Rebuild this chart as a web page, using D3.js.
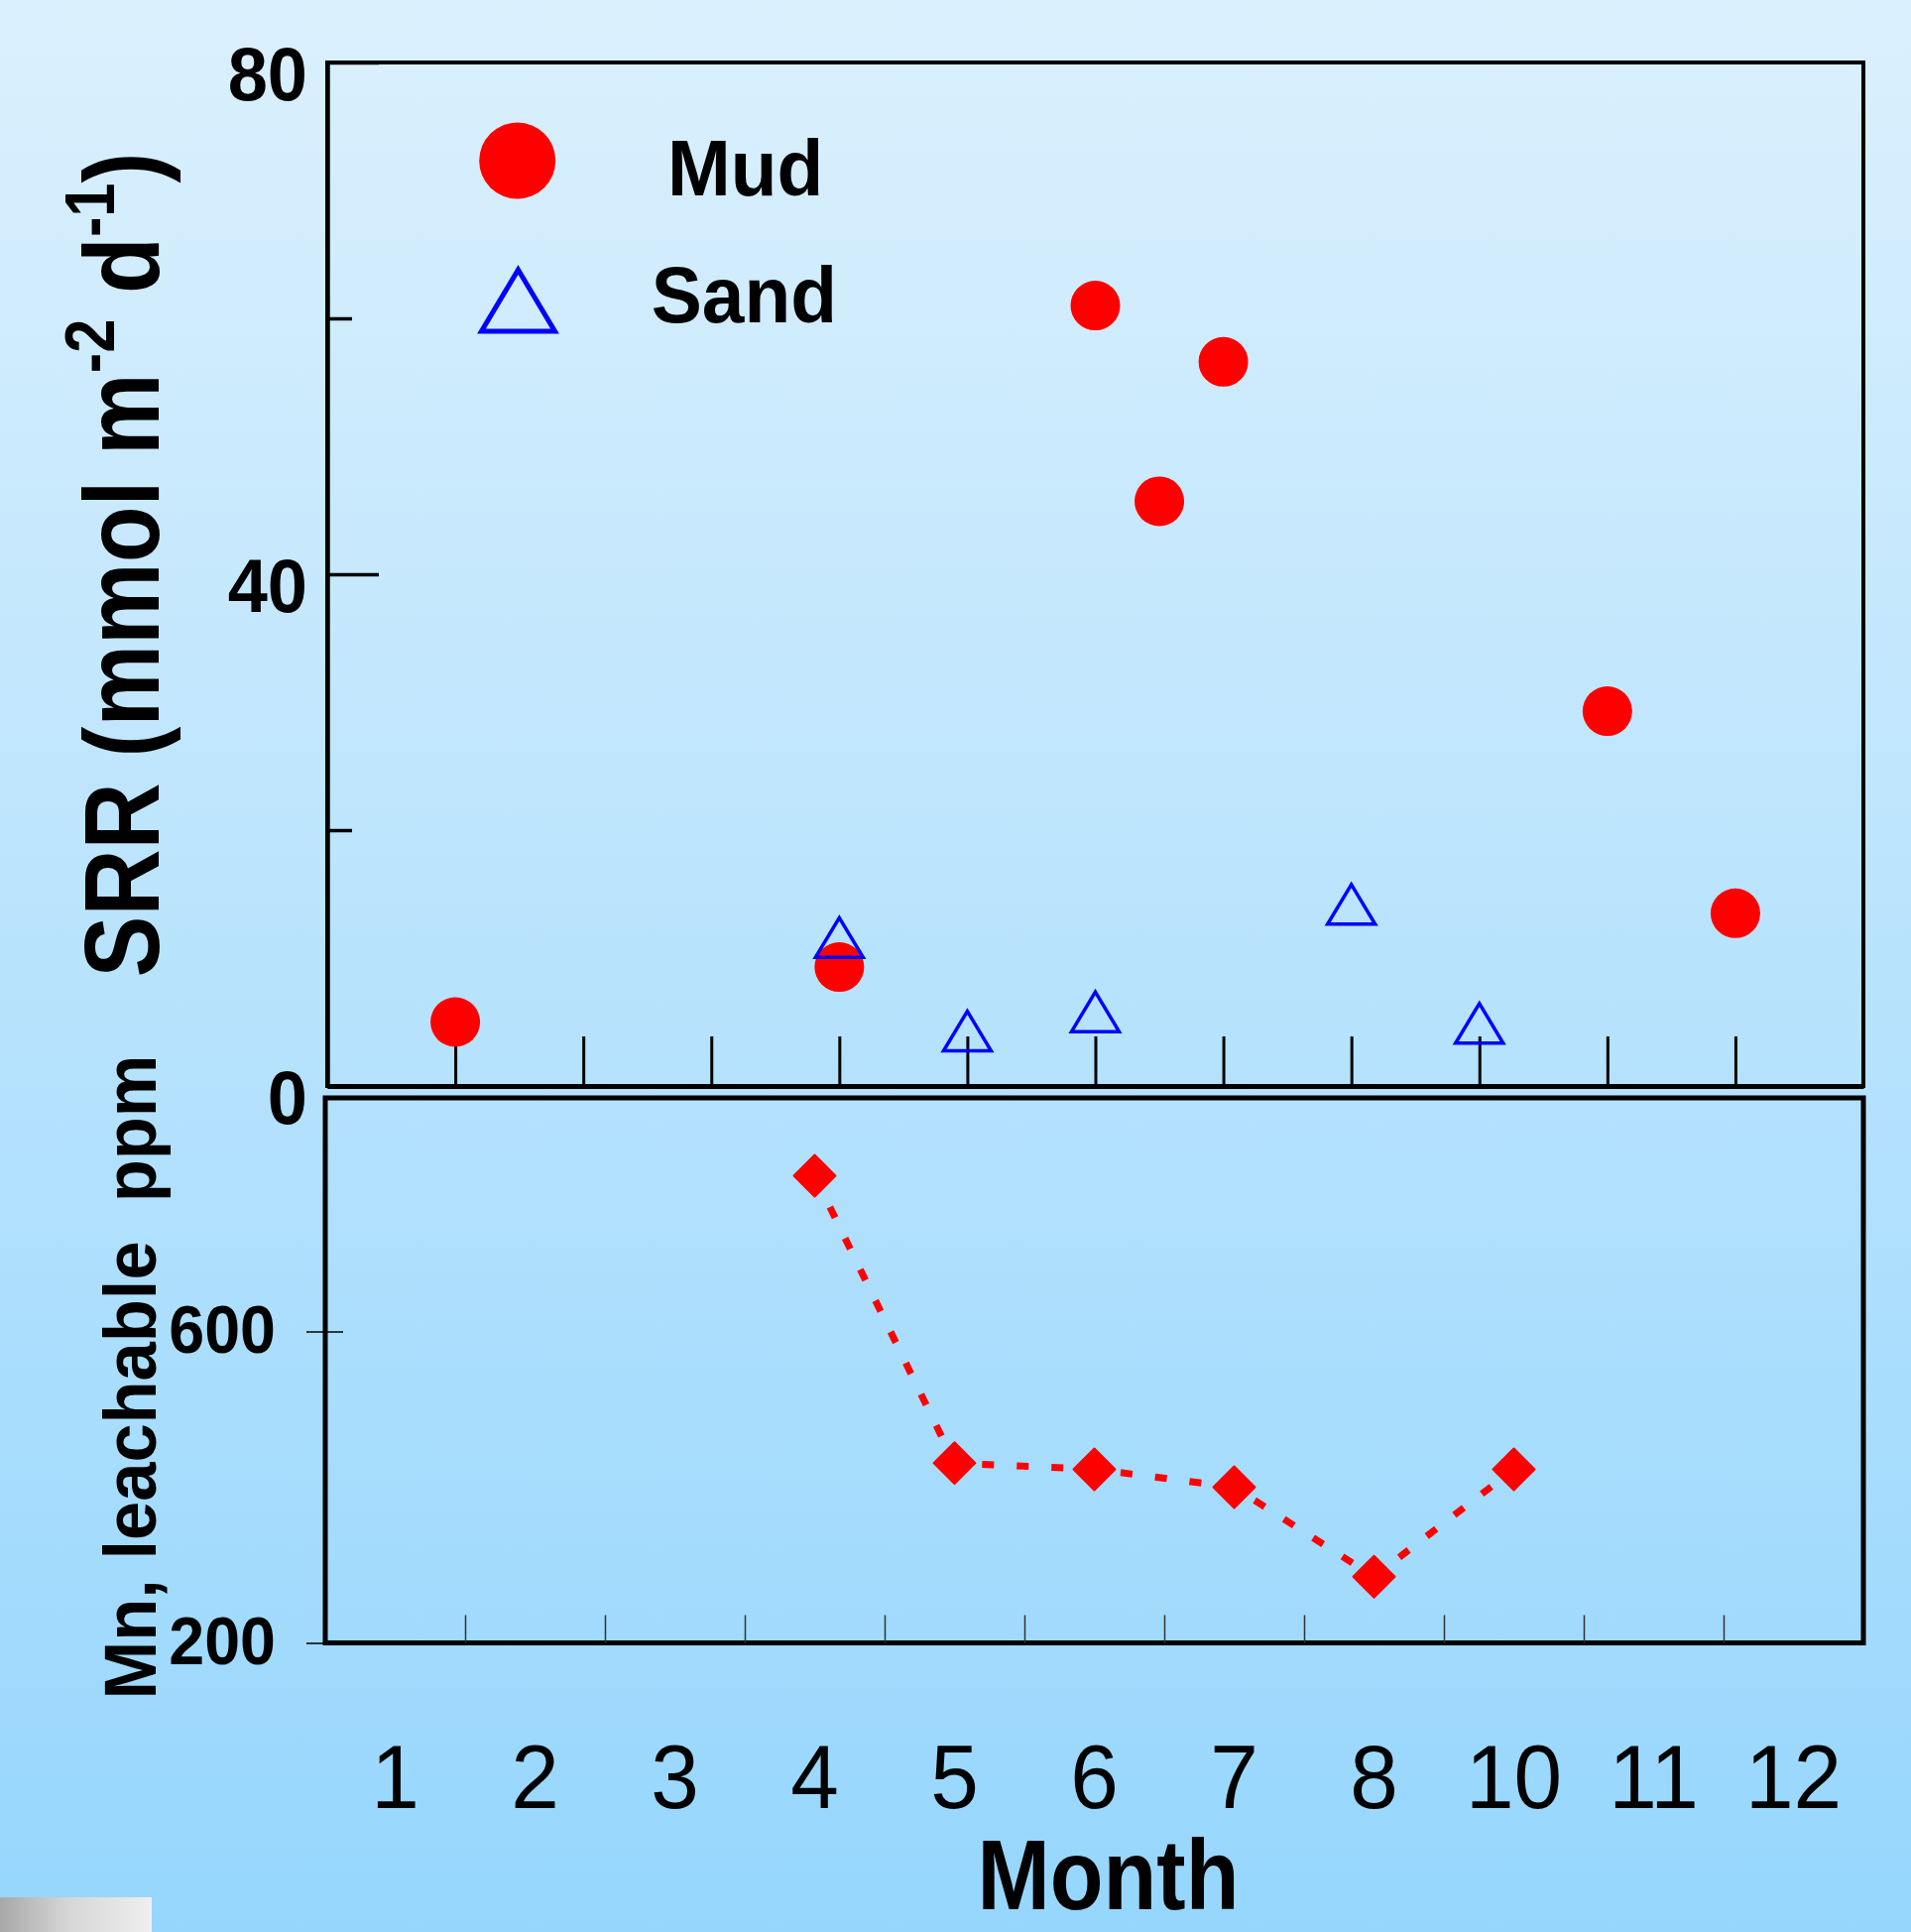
<!DOCTYPE html>
<html><head><meta charset="utf-8">
<script src="https://cdn.jsdelivr.net/npm/d3@7"></script>
<style>html,body{margin:0;padding:0;} svg{display:block;} text{font-family:"Liberation Sans",Arial,sans-serif;}</style>
</head><body>
<svg id="chart" width="1927" height="1948"></svg>
<script>
// ---------- data ----------
const mudX = [1, 4, 6, 6.5, 7, 10, 11];
const mudSRR = [5, 9.3, 61, 45.7, 56.6, 29.3, 13.5];
const sandX = [4, 5, 6, 8, 9];
const sandSRR = [11.6, 4.3, 5.8, 14.2, 4.9];
const srrMajorTicks = [0, 40, 80];
const srrMinorTicks = [20, 60];
const topTickPositions = [1, 2, 3, 4, 5, 6, 7, 8, 9, 10, 11];
const monthLabels = ["1", "2", "3", "4", "5", "6", "7", "8", "10", "11", "12"];
const mnMonths = ["4", "5", "6", "7", "8", "10"];
const mnValues = [800, 431, 423, 400, 285, 423];
const mnTicks = [200, 600];
const legendItems = ["Mud", "Sand"];

const FONT = '"Liberation Sans",Arial,sans-serif';
const svg = d3.select("#chart");
const defs = svg.append("defs");

// background gradient
const bg = defs.append("linearGradient").attr("id", "bg").attr("x1", 0).attr("y1", 0).attr("x2", 0).attr("y2", 1);
bg.append("stop").attr("offset", "0%").attr("stop-color", "#dbf0fd");
bg.append("stop").attr("offset", "55%").attr("stop-color", "#b5e2fd");
bg.append("stop").attr("offset", "100%").attr("stop-color", "#96d6fd");
svg.append("rect").attr("width", 1927).attr("height", 1948).attr("fill", "url(#bg)");

const gray = defs.append("linearGradient").attr("id", "gray").attr("x1", 0).attr("y1", 0).attr("x2", 1).attr("y2", 0);
gray.append("stop").attr("offset", "0%").attr("stop-color", "#a8a8a8");
gray.append("stop").attr("offset", "45%").attr("stop-color", "#d6d6d6");
gray.append("stop").attr("offset", "100%").attr("stop-color", "#efefef");
svg.append("rect").attr("x", 0).attr("y", 1913).attr("width", 153).attr("height", 35).attr("fill", "url(#gray)");

// ---------- top panel ----------
const topX = d3.scaleLinear().domain([0, 12]).range([330, 1879]);
const topY = d3.scaleLinear().domain([0, 80]).range([1095, 63]);

svg.append("rect").attr("x", 330).attr("y", 63).attr("width", 1549).attr("height", 1032)
  .attr("fill", "none").attr("stroke", "#000").attr("stroke-width", 4);

const gTopX = svg.append("g").attr("transform", "translate(0,1095)")
  .call(d3.axisBottom(topX).tickValues(topTickPositions).tickSize(-50).tickSizeOuter(0).tickFormat(""));
gTopX.select(".domain").attr("stroke", "#000").attr("stroke-width", 5);
gTopX.selectAll(".tick line").attr("stroke", "#000").attr("stroke-width", 3);

const gTopYminor = svg.append("g").attr("transform", "translate(330,0)")
  .call(d3.axisLeft(topY).tickValues(srrMinorTicks).tickSize(-25).tickSizeOuter(0).tickFormat(""));
gTopYminor.select(".domain").remove();
gTopYminor.selectAll(".tick line").attr("stroke", "#000").attr("stroke-width", 3.5);

const gTopY = svg.append("g").attr("transform", "translate(330,0)")
  .call(d3.axisLeft(topY).tickValues(srrMajorTicks).tickSize(-52).tickPadding(20).tickSizeOuter(0).tickFormat(d3.format("d")));
gTopY.select(".domain").attr("stroke", "#000").attr("stroke-width", 4.5);
gTopY.selectAll(".tick line").attr("stroke", "#000").attr("stroke-width", 3.5);
gTopY.selectAll(".tick text")
  .attr("x", null).attr("dy", null)
  .attr("transform", "translate(-20,37) scale(0.95,1)")
  .attr("fill", "#000").style("font-family", FONT).style("font-size", "76px").style("font-weight", "bold");

// mud circles
const mudData = mudX.map((x, i) => ({ x, v: mudSRR[i] }));
svg.append("g").selectAll("circle").data(mudData).join("circle")
  .attr("cx", d => topX(d.x)).attr("cy", d => topY(d.v)).attr("r", 25).attr("fill", "#ff0000");

// sand triangles
function triPath(cx, cy, w, h) {
  return `M${cx},${cy - h / 2}L${cx + w / 2},${cy + h / 2}L${cx - w / 2},${cy + h / 2}Z`;
}
const sandData = sandX.map((x, i) => ({ x, v: sandSRR[i] }));
svg.append("g").selectAll("path").data(sandData).join("path")
  .attr("d", d => triPath(topX(d.x), topY(d.v), 48, 40))
  .attr("fill", "none").attr("stroke", "#0000ff").attr("stroke-width", 3.5).attr("stroke-linejoin", "miter");

// legend
const leg = svg.append("g");
leg.append("circle").attr("cx", 521.7).attr("cy", 162).attr("r", 38.5).attr("fill", "#ff0000");
leg.append("path").attr("d", triPath(522.5, 303, 74, 62)).attr("fill", "none").attr("stroke", "#0000ff").attr("stroke-width", 5);
leg.selectAll("text").data(legendItems).join("text")
  .attr("text-anchor", "middle")
  .attr("transform", (d, i) => `translate(${i === 0 ? 751.7 : 750.4},${i === 0 ? 196.7 : 325}) scale(0.97,1)`)
  .style("font-family", FONT).style("font-size", "79px").style("font-weight", "bold").attr("fill", "#000")
  .text(d => d);

// SRR title
const srr = svg.append("text")
  .style("font-family", FONT).style("font-size", "107.5px").style("font-weight", "bold").attr("fill", "#000");
srr.append("tspan").text("SRR (mmol m");
srr.append("tspan").attr("dy", -45).style("font-size", "71px").text("-2");
srr.append("tspan").attr("dy", 45).text(" d");
srr.append("tspan").attr("dy", -45).style("font-size", "71px").text("-1");
srr.append("tspan").attr("dy", 45).text(")");
{
  const w = srr.node().getBBox().width;
  srr.attr("transform", `translate(160,985.5) rotate(-90) scale(${832 / w},1)`);
}

// ---------- bottom panel ----------
const botX = d3.scaleBand().domain(monthLabels).range([328, 1879]).padding(0);
const botBounds = d3.scaleLinear().domain([0, monthLabels.length]).range([328, 1879]);
const botY = d3.scaleLinear().domain([200, 900]).range([1656.5, 1107]);

svg.append("rect").attr("x", 328).attr("y", 1107).attr("width", 1551).attr("height", 549.5)
  .attr("fill", "none").attr("stroke", "#000").attr("stroke-width", 5);

const gBotTicks = svg.append("g").attr("transform", "translate(0,1656.5)")
  .call(d3.axisBottom(botBounds).tickValues(d3.range(1, monthLabels.length)).tickSize(-28).tickSizeOuter(0).tickFormat(""));
gBotTicks.select(".domain").remove();
gBotTicks.selectAll(".tick line").attr("stroke", "#333").attr("stroke-width", 1.5);

const gBotLabels = svg.append("g").attr("transform", "translate(0,1656.5)")
  .call(d3.axisBottom(botX).tickSize(0).tickSizeOuter(0));
gBotLabels.select(".domain").remove();
gBotLabels.selectAll(".tick text")
  .attr("y", null).attr("dy", null)
  .attr("transform", "translate(0,166) scale(0.96,1)")
  .attr("fill", "#000").style("font-family", FONT).style("font-size", "91px").style("font-weight", "normal");

const gBotY = svg.append("g").attr("transform", "translate(328,0)")
  .call(d3.axisLeft(botY).tickValues(mnTicks).tickSize(19).tickPadding(31).tickSizeOuter(0));
gBotY.select(".domain").remove();
gBotY.selectAll(".tick line").attr("stroke", "#000").attr("stroke-width", 1.5);
gBotY.selectAll(".tick text")
  .attr("x", null).attr("dy", null)
  .attr("transform", "translate(-50,20.5) scale(0.95,1)")
  .attr("fill", "#000").style("font-family", FONT).style("font-size", "68px").style("font-weight", "bold");
const gBotYin = svg.append("g").attr("transform", "translate(328,0)")
  .call(d3.axisLeft(botY).tickValues([600]).tickSize(-18).tickSizeOuter(0).tickFormat(""));
gBotYin.select(".domain").remove();
gBotYin.selectAll(".tick line").attr("stroke", "#000").attr("stroke-width", 1.5);

// Mn line
const mnData = mnMonths.map((m, i) => ({ m, v: mnValues[i] }));
const line = d3.line().x(d => botX(d.m) + botX.bandwidth() / 2).y(d => botY(d.v));
svg.append("path").datum(mnData).attr("d", line)
  .attr("fill", "none").attr("stroke", "#ff0000").attr("stroke-width", 7).attr("stroke-dasharray", "12,23");
const diamond = d3.symbol().type(d3.symbolSquare).size(880);
svg.append("g").selectAll("path").data(mnData).join("path")
  .attr("d", diamond)
  .attr("transform", d => `translate(${botX(d.m) + botX.bandwidth() / 2},${botY(d.v)}) rotate(45)`)
  .attr("fill", "#ff0000").attr("stroke", "#ff0000").attr("stroke-width", 2).attr("stroke-linejoin", "round");

// Mn title
const mn = svg.append("text")
  .style("font-family", FONT).style("font-size", "75px").style("font-weight", "bold").style("white-space", "pre")
  .attr("fill", "#000").text("Mn, leachable  ppm");
{
  const w = mn.node().getBBox().width;
  mn.attr("transform", `translate(157,1713.4) rotate(-90) scale(${650 / w},1)`);
}

// Month title
svg.append("text").attr("text-anchor", "middle")
  .attr("transform", "translate(1117.5,1925) scale(0.88,1)")
  .style("font-family", FONT).style("font-size", "100px").style("font-weight", "bold").attr("fill", "#000")
  .text("Month");
</script>
</body></html>
